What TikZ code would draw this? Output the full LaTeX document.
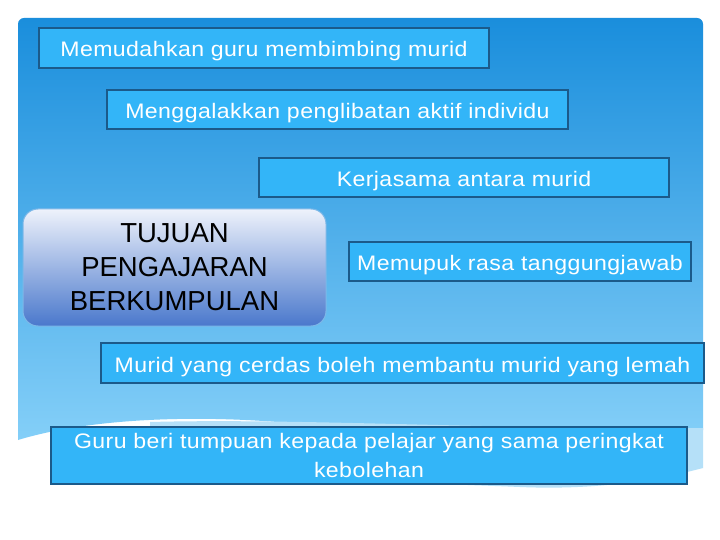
\documentclass[tikz,border=0pt]{standalone}
\usepackage{fontspec}
\setmainfont{Liberation Sans}
\newfontfamily\itemfont[FakeStretch=1.1,LetterSpace=2]{Liberation Sans}
\definecolor{boxfill}{HTML}{33B5F8}
\definecolor{boxline}{HTML}{1B5A8A}
\definecolor{bgtop}{HTML}{1A8EDC}
\definecolor{bgbot}{HTML}{84CFF8}
\definecolor{paleband}{HTML}{B5E0F8}
\definecolor{mtop}{HTML}{EEF2FB}
\definecolor{mbot}{HTML}{4A78CC}
\definecolor{mline}{HTML}{7DB8E8}
\tikzset{
  itembox/.style={draw=boxline, line width=1.5pt, fill=boxfill, text=white,
    font=\itemfont\fontsize{21}{29}\selectfont, inner sep=0pt, align=center},
  oneline/.style={text height=18pt, text depth=0pt},
  mainbox/.style={draw=mline, line width=1pt, top color=mtop, bottom color=mbot,
    rounded corners=15pt, text=black, font=\fontsize{27.5}{34}\selectfont,
    inner sep=0pt, align=center, minimum width=303pt, minimum height=117pt}
}
\begin{document}
\begin{tikzpicture}[x=1pt,y=-1pt]
\useasboundingbox (0,0) rectangle (720,540);
\fill[white] (0,0) rectangle (720,540);
% background panel
\shade[top color=bgtop, bottom color=bgbot, rounded corners=6pt]
  (18,440) -- (18,18) -- (703,18) -- (703,432) [sharp corners] -- (703,430)
  .. controls (600,432) and (450,430) .. (300,424)
  .. controls (200,414) and (90,418) .. (18,440) -- cycle;
% pale lower band
\fill[paleband] (150,422) .. controls (300,418) and (500,430) .. (703,428)
  -- (703,468) .. controls (650,482) and (590,490) .. (520,487)
  .. controls (450,484) and (300,480) .. (150,470) -- cycle;
\node[itembox, oneline, minimum width=450pt, minimum height=40pt] (a) at (264,48) {Memudahkan guru membimbing murid};
\node[itembox, oneline, minimum width=461pt, minimum height=39pt] (b) at (337.5,109.5) {Menggalakkan penglibatan aktif individu};
\node[itembox, oneline, minimum width=410pt, minimum height=39pt] (c) at (464,177.5) {Kerjasama antara murid};
\node[mainbox] (m) at (174.5,267.5) {TUJUAN\\PENGAJARAN\\BERKUMPULAN};
\node[itembox, oneline, minimum width=342pt, minimum height=39pt] (d) at (520,261.5) {Memupuk rasa tanggungjawab};
\node[itembox, oneline, minimum width=603pt, minimum height=40pt] (e) at (402.5,363) {Murid yang cerdas boleh membantu murid yang lemah};
\node[itembox, minimum width=636pt, minimum height=57pt] (f) at (369,455.5) {Guru beri tumpuan kepada pelajar yang sama peringkat\\kebolehan};
\end{tikzpicture}
\end{document}
